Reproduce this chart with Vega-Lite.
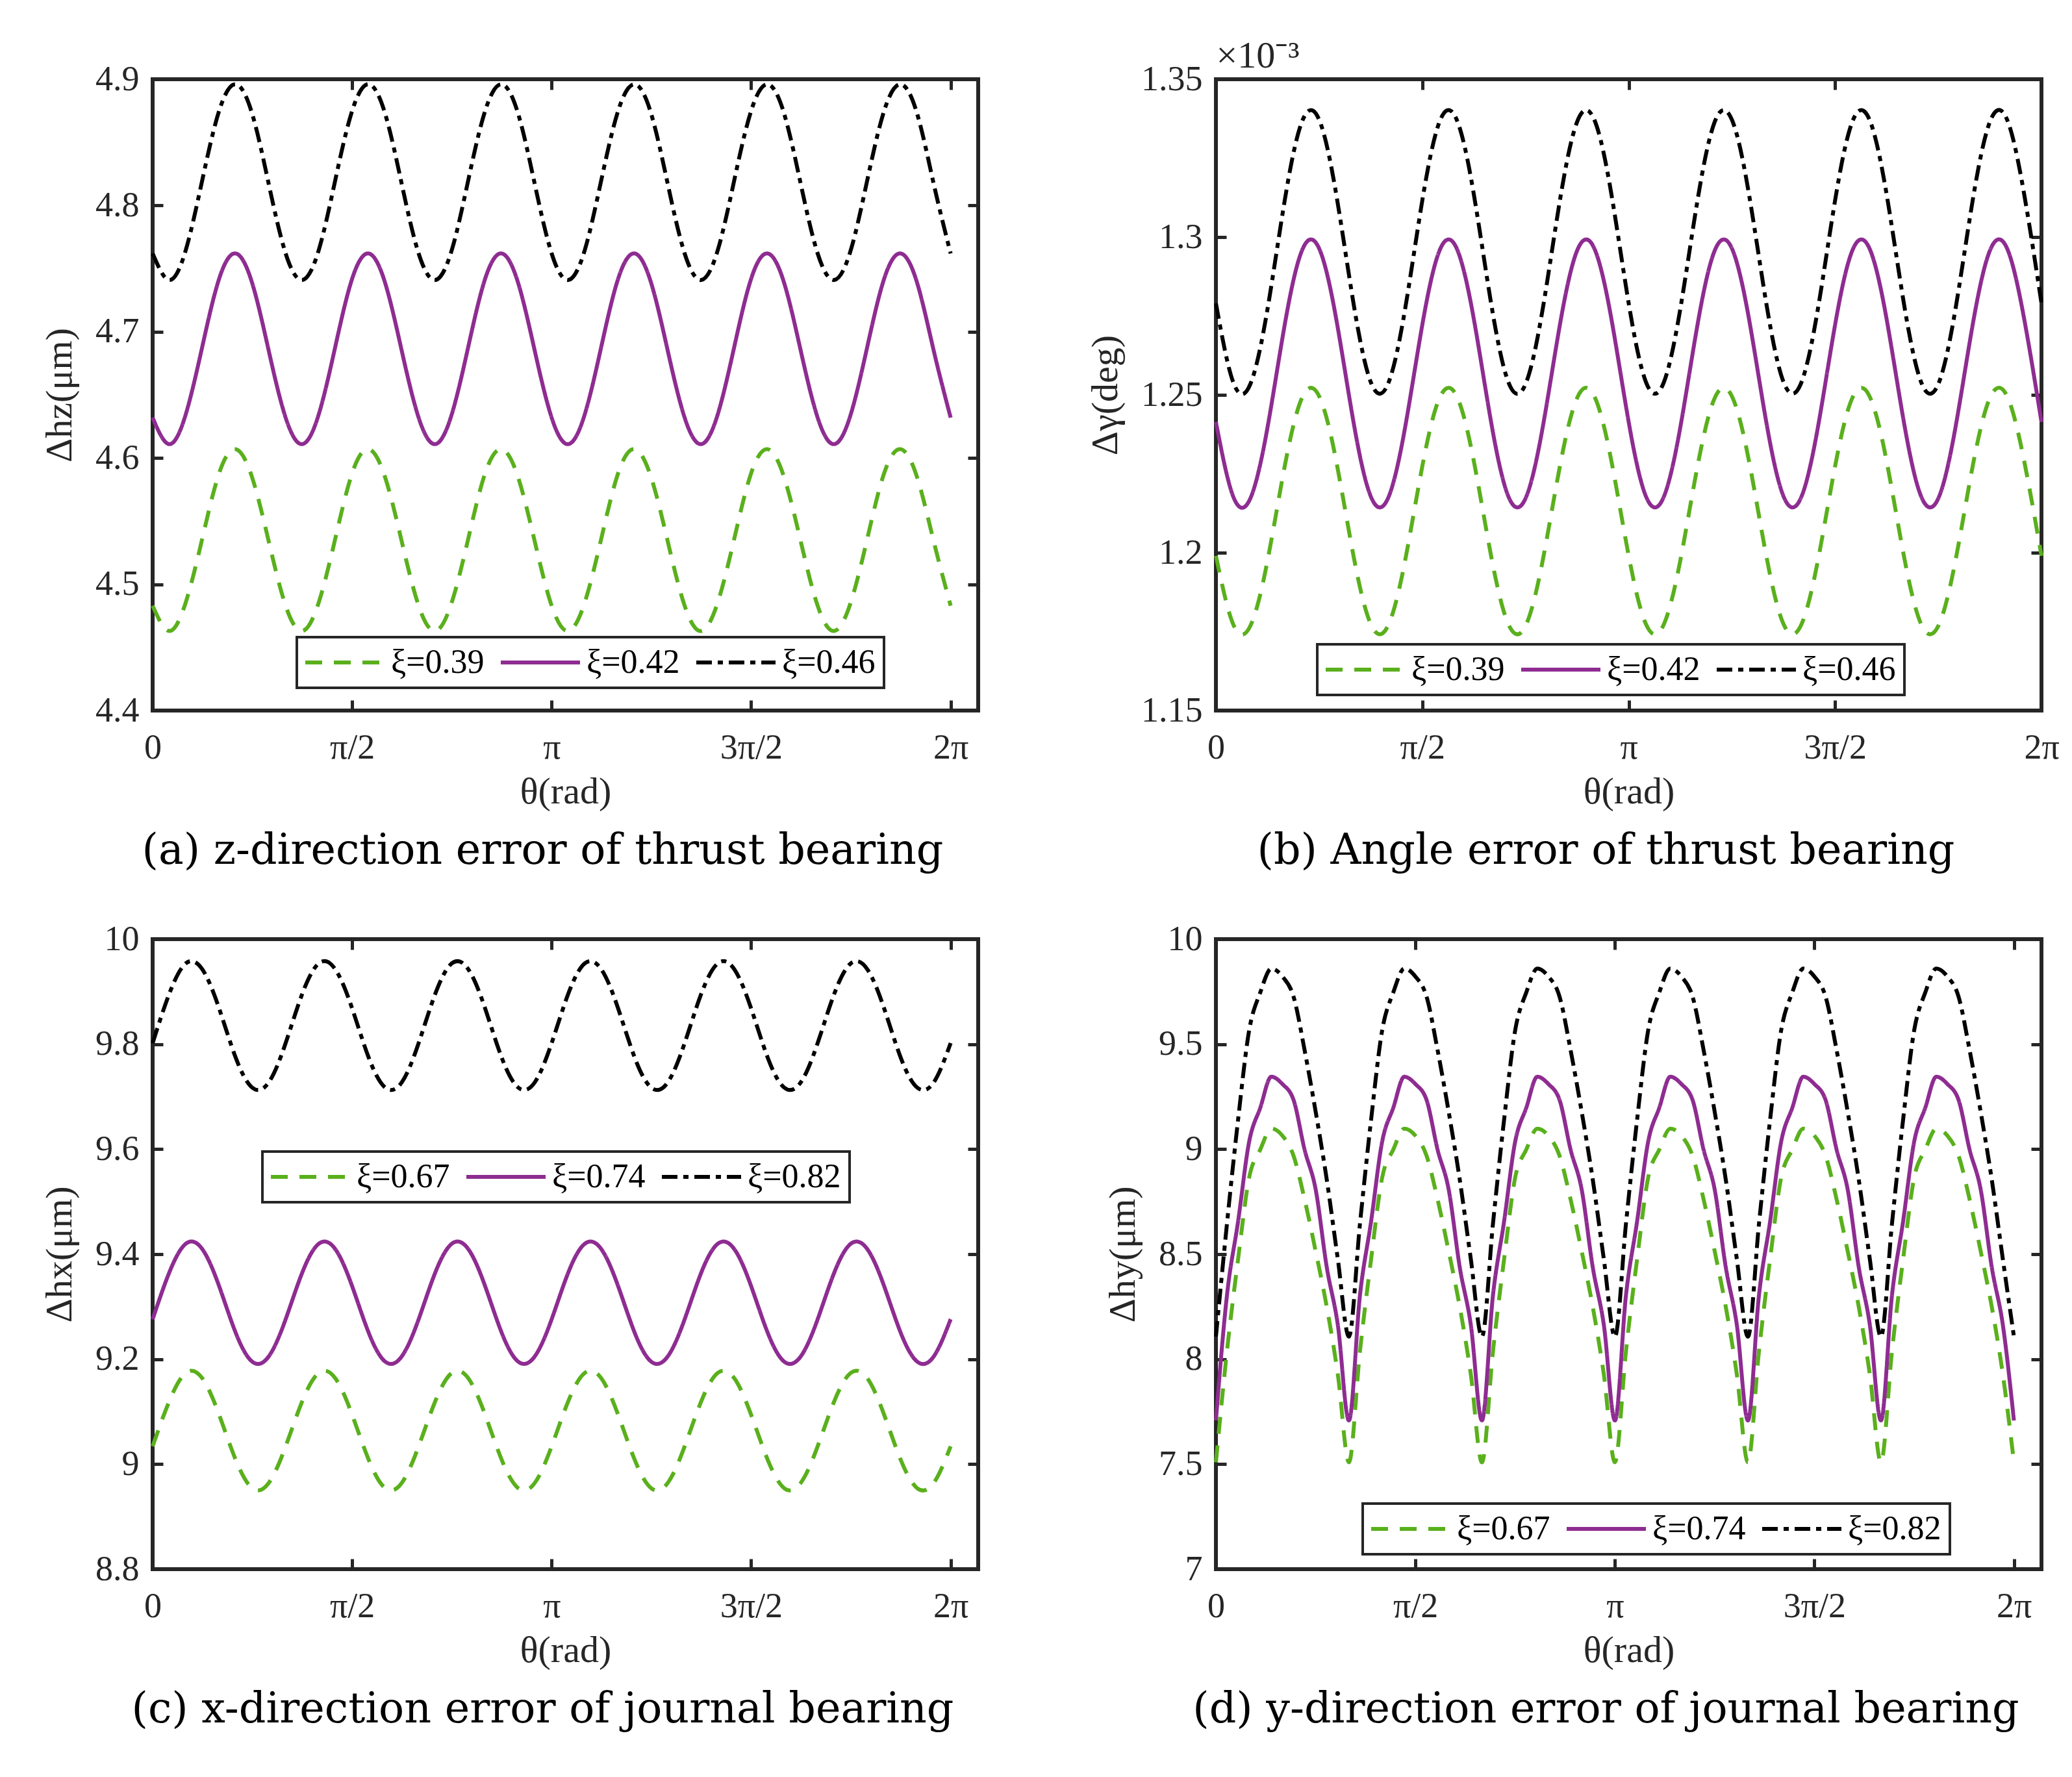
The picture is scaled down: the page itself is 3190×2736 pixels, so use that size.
{
  "$schema": "https://vega.github.io/schema/vega-lite/v6.json",
  "background": "white",
  "padding": {"left": 60, "top": 54, "right": 5, "bottom": 5},
  "columns": 2,
  "spacing": {"row": 70, "column": 158},
  "resolve": {
    "scale": {"color": "independent", "strokeDash": "independent", "x": "independent", "y": "independent"},
    "legend": {"color": "independent", "strokeDash": "independent"}
  },
  "config": {
    "view": {"stroke": "#262626", "strokeWidth": 6},
    "axis": {
      "labelFont": "Liberation Serif",
      "titleFont": "Liberation Serif",
      "labelFontSize": 54,
      "titleFontSize": 58,
      "titleFontWeight": "normal",
      "labelColor": "#262626",
      "titleColor": "#262626",
      "grid": false,
      "domain": false,
      "tickColor": "#262626",
      "tickWidth": 5,
      "tickSize": -16,
      "labelFlush": false,
      "labelOverlap": false
    },
    "axisX": {"labelPadding": 46, "titlePadding": 12},
    "axisY": {"labelPadding": 37, "titlePadding": 25},
    "legend": {
      "labelFont": "Liberation Serif",
      "labelFontSize": 52,
      "labelColor": "#000000",
      "strokeColor": "#262626",
      "strokeWidth": 4,
      "fillColor": "white",
      "padding": 13
    },
    "title": {"font": "DejaVu Serif", "fontSize": 65, "fontWeight": "normal", "color": "#000000"}
  },
  "datasets": {
    "a": [
      {"t":0,"s":"ξ=0.39","v":4.483},{"t":0.1309,"s":"ξ=0.39","v":4.463},{"t":0.2618,"s":"ξ=0.39","v":4.486},{"t":0.3927,"s":"ξ=0.39","v":4.537},{"t":0.5236,"s":"ξ=0.39","v":4.588},{"t":0.6545,"s":"ξ=0.39","v":4.607},{"t":0.7854,"s":"ξ=0.39","v":4.584},{"t":0.9163,"s":"ξ=0.39","v":4.533},
      {"t":1.0472,"s":"ξ=0.39","v":4.483},{"t":1.1781,"s":"ξ=0.39","v":4.463},{"t":1.309,"s":"ξ=0.39","v":4.486},{"t":1.4399,"s":"ξ=0.39","v":4.537},{"t":1.5708,"s":"ξ=0.39","v":4.588},{"t":1.7017,"s":"ξ=0.39","v":4.607},{"t":1.8326,"s":"ξ=0.39","v":4.584},{"t":1.9635,"s":"ξ=0.39","v":4.533},
      {"t":2.0944,"s":"ξ=0.39","v":4.483},{"t":2.2253,"s":"ξ=0.39","v":4.463},{"t":2.3562,"s":"ξ=0.39","v":4.486},{"t":2.4871,"s":"ξ=0.39","v":4.537},{"t":2.618,"s":"ξ=0.39","v":4.588},{"t":2.7489,"s":"ξ=0.39","v":4.607},{"t":2.8798,"s":"ξ=0.39","v":4.584},{"t":3.0107,"s":"ξ=0.39","v":4.533},
      {"t":3.1416,"s":"ξ=0.39","v":4.483},{"t":3.2725,"s":"ξ=0.39","v":4.463},{"t":3.4034,"s":"ξ=0.39","v":4.486},{"t":3.5343,"s":"ξ=0.39","v":4.537},{"t":3.6652,"s":"ξ=0.39","v":4.588},{"t":3.7961,"s":"ξ=0.39","v":4.607},{"t":3.927,"s":"ξ=0.39","v":4.584},{"t":4.0579,"s":"ξ=0.39","v":4.533},
      {"t":4.1888,"s":"ξ=0.39","v":4.483},{"t":4.3197,"s":"ξ=0.39","v":4.463},{"t":4.4506,"s":"ξ=0.39","v":4.486},{"t":4.5815,"s":"ξ=0.39","v":4.537},{"t":4.7124,"s":"ξ=0.39","v":4.588},{"t":4.8433,"s":"ξ=0.39","v":4.607},{"t":4.9742,"s":"ξ=0.39","v":4.584},{"t":5.1051,"s":"ξ=0.39","v":4.533},
      {"t":5.236,"s":"ξ=0.39","v":4.483},{"t":5.3669,"s":"ξ=0.39","v":4.463},{"t":5.4978,"s":"ξ=0.39","v":4.486},{"t":5.6287,"s":"ξ=0.39","v":4.537},{"t":5.7596,"s":"ξ=0.39","v":4.588},{"t":5.8905,"s":"ξ=0.39","v":4.607},{"t":6.0214,"s":"ξ=0.39","v":4.584},{"t":6.1523,"s":"ξ=0.39","v":4.533},
      {"t":6.2832,"s":"ξ=0.39","v":4.483},
      {"t":0,"s":"ξ=0.42","v":4.632},{"t":0.1309,"s":"ξ=0.42","v":4.611},{"t":0.2618,"s":"ξ=0.42","v":4.635},{"t":0.3927,"s":"ξ=0.42","v":4.689},{"t":0.5236,"s":"ξ=0.42","v":4.742},{"t":0.6545,"s":"ξ=0.42","v":4.762},{"t":0.7854,"s":"ξ=0.42","v":4.738},{"t":0.9163,"s":"ξ=0.42","v":4.684},
      {"t":1.0472,"s":"ξ=0.42","v":4.632},{"t":1.1781,"s":"ξ=0.42","v":4.611},{"t":1.309,"s":"ξ=0.42","v":4.635},{"t":1.4399,"s":"ξ=0.42","v":4.689},{"t":1.5708,"s":"ξ=0.42","v":4.742},{"t":1.7017,"s":"ξ=0.42","v":4.762},{"t":1.8326,"s":"ξ=0.42","v":4.738},{"t":1.9635,"s":"ξ=0.42","v":4.684},
      {"t":2.0944,"s":"ξ=0.42","v":4.632},{"t":2.2253,"s":"ξ=0.42","v":4.611},{"t":2.3562,"s":"ξ=0.42","v":4.635},{"t":2.4871,"s":"ξ=0.42","v":4.689},{"t":2.618,"s":"ξ=0.42","v":4.742},{"t":2.7489,"s":"ξ=0.42","v":4.762},{"t":2.8798,"s":"ξ=0.42","v":4.738},{"t":3.0107,"s":"ξ=0.42","v":4.684},
      {"t":3.1416,"s":"ξ=0.42","v":4.632},{"t":3.2725,"s":"ξ=0.42","v":4.611},{"t":3.4034,"s":"ξ=0.42","v":4.635},{"t":3.5343,"s":"ξ=0.42","v":4.689},{"t":3.6652,"s":"ξ=0.42","v":4.742},{"t":3.7961,"s":"ξ=0.42","v":4.762},{"t":3.927,"s":"ξ=0.42","v":4.738},{"t":4.0579,"s":"ξ=0.42","v":4.684},
      {"t":4.1888,"s":"ξ=0.42","v":4.632},{"t":4.3197,"s":"ξ=0.42","v":4.611},{"t":4.4506,"s":"ξ=0.42","v":4.635},{"t":4.5815,"s":"ξ=0.42","v":4.689},{"t":4.7124,"s":"ξ=0.42","v":4.742},{"t":4.8433,"s":"ξ=0.42","v":4.762},{"t":4.9742,"s":"ξ=0.42","v":4.738},{"t":5.1051,"s":"ξ=0.42","v":4.684},
      {"t":5.236,"s":"ξ=0.42","v":4.632},{"t":5.3669,"s":"ξ=0.42","v":4.611},{"t":5.4978,"s":"ξ=0.42","v":4.635},{"t":5.6287,"s":"ξ=0.42","v":4.689},{"t":5.7596,"s":"ξ=0.42","v":4.742},{"t":5.8905,"s":"ξ=0.42","v":4.762},{"t":6.0214,"s":"ξ=0.42","v":4.738},{"t":6.1523,"s":"ξ=0.42","v":4.684},
      {"t":6.2832,"s":"ξ=0.42","v":4.632},
      {"t":0,"s":"ξ=0.46","v":4.762},{"t":0.1309,"s":"ξ=0.46","v":4.741},{"t":0.2618,"s":"ξ=0.46","v":4.765},{"t":0.3927,"s":"ξ=0.46","v":4.821},{"t":0.5236,"s":"ξ=0.46","v":4.875},{"t":0.6545,"s":"ξ=0.46","v":4.896},{"t":0.7854,"s":"ξ=0.46","v":4.872},{"t":0.9163,"s":"ξ=0.46","v":4.816},
      {"t":1.0472,"s":"ξ=0.46","v":4.762},{"t":1.1781,"s":"ξ=0.46","v":4.741},{"t":1.309,"s":"ξ=0.46","v":4.765},{"t":1.4399,"s":"ξ=0.46","v":4.821},{"t":1.5708,"s":"ξ=0.46","v":4.875},{"t":1.7017,"s":"ξ=0.46","v":4.896},{"t":1.8326,"s":"ξ=0.46","v":4.872},{"t":1.9635,"s":"ξ=0.46","v":4.816},
      {"t":2.0944,"s":"ξ=0.46","v":4.762},{"t":2.2253,"s":"ξ=0.46","v":4.741},{"t":2.3562,"s":"ξ=0.46","v":4.765},{"t":2.4871,"s":"ξ=0.46","v":4.821},{"t":2.618,"s":"ξ=0.46","v":4.875},{"t":2.7489,"s":"ξ=0.46","v":4.896},{"t":2.8798,"s":"ξ=0.46","v":4.872},{"t":3.0107,"s":"ξ=0.46","v":4.816},
      {"t":3.1416,"s":"ξ=0.46","v":4.762},{"t":3.2725,"s":"ξ=0.46","v":4.741},{"t":3.4034,"s":"ξ=0.46","v":4.765},{"t":3.5343,"s":"ξ=0.46","v":4.821},{"t":3.6652,"s":"ξ=0.46","v":4.875},{"t":3.7961,"s":"ξ=0.46","v":4.896},{"t":3.927,"s":"ξ=0.46","v":4.872},{"t":4.0579,"s":"ξ=0.46","v":4.816},
      {"t":4.1888,"s":"ξ=0.46","v":4.762},{"t":4.3197,"s":"ξ=0.46","v":4.741},{"t":4.4506,"s":"ξ=0.46","v":4.765},{"t":4.5815,"s":"ξ=0.46","v":4.821},{"t":4.7124,"s":"ξ=0.46","v":4.875},{"t":4.8433,"s":"ξ=0.46","v":4.896},{"t":4.9742,"s":"ξ=0.46","v":4.872},{"t":5.1051,"s":"ξ=0.46","v":4.816},
      {"t":5.236,"s":"ξ=0.46","v":4.762},{"t":5.3669,"s":"ξ=0.46","v":4.741},{"t":5.4978,"s":"ξ=0.46","v":4.765},{"t":5.6287,"s":"ξ=0.46","v":4.821},{"t":5.7596,"s":"ξ=0.46","v":4.875},{"t":5.8905,"s":"ξ=0.46","v":4.896},{"t":6.0214,"s":"ξ=0.46","v":4.872},{"t":6.1523,"s":"ξ=0.46","v":4.816},
      {"t":6.2832,"s":"ξ=0.46","v":4.762}
    ],
    "b": [
      {"t":0,"s":"ξ=0.39","v":1.199},{"t":0.1309,"s":"ξ=0.39","v":1.1774},{"t":0.2618,"s":"ξ=0.39","v":1.1768},{"t":0.3927,"s":"ξ=0.39","v":1.1975},{"t":0.5236,"s":"ξ=0.39","v":1.2274},{"t":0.6545,"s":"ξ=0.39","v":1.249},{"t":0.7854,"s":"ξ=0.39","v":1.2496},{"t":0.9163,"s":"ξ=0.39","v":1.2289},
      {"t":1.0472,"s":"ξ=0.39","v":1.199},{"t":1.1781,"s":"ξ=0.39","v":1.1774},{"t":1.309,"s":"ξ=0.39","v":1.1768},{"t":1.4399,"s":"ξ=0.39","v":1.1975},{"t":1.5708,"s":"ξ=0.39","v":1.2274},{"t":1.7017,"s":"ξ=0.39","v":1.249},{"t":1.8326,"s":"ξ=0.39","v":1.2496},{"t":1.9635,"s":"ξ=0.39","v":1.2289},
      {"t":2.0944,"s":"ξ=0.39","v":1.199},{"t":2.2253,"s":"ξ=0.39","v":1.1774},{"t":2.3562,"s":"ξ=0.39","v":1.1768},{"t":2.4871,"s":"ξ=0.39","v":1.1975},{"t":2.618,"s":"ξ=0.39","v":1.2274},{"t":2.7489,"s":"ξ=0.39","v":1.249},{"t":2.8798,"s":"ξ=0.39","v":1.2496},{"t":3.0107,"s":"ξ=0.39","v":1.2289},
      {"t":3.1416,"s":"ξ=0.39","v":1.199},{"t":3.2725,"s":"ξ=0.39","v":1.1774},{"t":3.4034,"s":"ξ=0.39","v":1.1768},{"t":3.5343,"s":"ξ=0.39","v":1.1975},{"t":3.6652,"s":"ξ=0.39","v":1.2274},{"t":3.7961,"s":"ξ=0.39","v":1.249},{"t":3.927,"s":"ξ=0.39","v":1.2496},{"t":4.0579,"s":"ξ=0.39","v":1.2289},
      {"t":4.1888,"s":"ξ=0.39","v":1.199},{"t":4.3197,"s":"ξ=0.39","v":1.1774},{"t":4.4506,"s":"ξ=0.39","v":1.1768},{"t":4.5815,"s":"ξ=0.39","v":1.1975},{"t":4.7124,"s":"ξ=0.39","v":1.2274},{"t":4.8433,"s":"ξ=0.39","v":1.249},{"t":4.9742,"s":"ξ=0.39","v":1.2496},{"t":5.1051,"s":"ξ=0.39","v":1.2289},
      {"t":5.236,"s":"ξ=0.39","v":1.199},{"t":5.3669,"s":"ξ=0.39","v":1.1774},{"t":5.4978,"s":"ξ=0.39","v":1.1768},{"t":5.6287,"s":"ξ=0.39","v":1.1975},{"t":5.7596,"s":"ξ=0.39","v":1.2274},{"t":5.8905,"s":"ξ=0.39","v":1.249},{"t":6.0214,"s":"ξ=0.39","v":1.2496},{"t":6.1523,"s":"ξ=0.39","v":1.2289},
      {"t":6.2832,"s":"ξ=0.39","v":1.199},
      {"t":0,"s":"ξ=0.42","v":1.2414},{"t":0.1309,"s":"ξ=0.42","v":1.2179},{"t":0.2618,"s":"ξ=0.42","v":1.2172},{"t":0.3927,"s":"ξ=0.42","v":1.2397},{"t":0.5236,"s":"ξ=0.42","v":1.2722},{"t":0.6545,"s":"ξ=0.42","v":1.2957},{"t":0.7854,"s":"ξ=0.42","v":1.2964},{"t":0.9163,"s":"ξ=0.42","v":1.2739},
      {"t":1.0472,"s":"ξ=0.42","v":1.2414},{"t":1.1781,"s":"ξ=0.42","v":1.2179},{"t":1.309,"s":"ξ=0.42","v":1.2172},{"t":1.4399,"s":"ξ=0.42","v":1.2397},{"t":1.5708,"s":"ξ=0.42","v":1.2722},{"t":1.7017,"s":"ξ=0.42","v":1.2957},{"t":1.8326,"s":"ξ=0.42","v":1.2964},{"t":1.9635,"s":"ξ=0.42","v":1.2739},
      {"t":2.0944,"s":"ξ=0.42","v":1.2414},{"t":2.2253,"s":"ξ=0.42","v":1.2179},{"t":2.3562,"s":"ξ=0.42","v":1.2172},{"t":2.4871,"s":"ξ=0.42","v":1.2397},{"t":2.618,"s":"ξ=0.42","v":1.2722},{"t":2.7489,"s":"ξ=0.42","v":1.2957},{"t":2.8798,"s":"ξ=0.42","v":1.2964},{"t":3.0107,"s":"ξ=0.42","v":1.2739},
      {"t":3.1416,"s":"ξ=0.42","v":1.2414},{"t":3.2725,"s":"ξ=0.42","v":1.2179},{"t":3.4034,"s":"ξ=0.42","v":1.2172},{"t":3.5343,"s":"ξ=0.42","v":1.2397},{"t":3.6652,"s":"ξ=0.42","v":1.2722},{"t":3.7961,"s":"ξ=0.42","v":1.2957},{"t":3.927,"s":"ξ=0.42","v":1.2964},{"t":4.0579,"s":"ξ=0.42","v":1.2739},
      {"t":4.1888,"s":"ξ=0.42","v":1.2414},{"t":4.3197,"s":"ξ=0.42","v":1.2179},{"t":4.4506,"s":"ξ=0.42","v":1.2172},{"t":4.5815,"s":"ξ=0.42","v":1.2397},{"t":4.7124,"s":"ξ=0.42","v":1.2722},{"t":4.8433,"s":"ξ=0.42","v":1.2957},{"t":4.9742,"s":"ξ=0.42","v":1.2964},{"t":5.1051,"s":"ξ=0.42","v":1.2739},
      {"t":5.236,"s":"ξ=0.42","v":1.2414},{"t":5.3669,"s":"ξ=0.42","v":1.2179},{"t":5.4978,"s":"ξ=0.42","v":1.2172},{"t":5.6287,"s":"ξ=0.42","v":1.2397},{"t":5.7596,"s":"ξ=0.42","v":1.2722},{"t":5.8905,"s":"ξ=0.42","v":1.2957},{"t":6.0214,"s":"ξ=0.42","v":1.2964},{"t":6.1523,"s":"ξ=0.42","v":1.2739},
      {"t":6.2832,"s":"ξ=0.42","v":1.2414},
      {"t":0,"s":"ξ=0.46","v":1.279},{"t":0.1309,"s":"ξ=0.46","v":1.2541},{"t":0.2618,"s":"ξ=0.46","v":1.2534},{"t":0.3927,"s":"ξ=0.46","v":1.2772},{"t":0.5236,"s":"ξ=0.46","v":1.3116},{"t":0.6545,"s":"ξ=0.46","v":1.3365},{"t":0.7854,"s":"ξ=0.46","v":1.3372},{"t":0.9163,"s":"ξ=0.46","v":1.3134},
      {"t":1.0472,"s":"ξ=0.46","v":1.279},{"t":1.1781,"s":"ξ=0.46","v":1.2541},{"t":1.309,"s":"ξ=0.46","v":1.2534},{"t":1.4399,"s":"ξ=0.46","v":1.2772},{"t":1.5708,"s":"ξ=0.46","v":1.3116},{"t":1.7017,"s":"ξ=0.46","v":1.3365},{"t":1.8326,"s":"ξ=0.46","v":1.3372},{"t":1.9635,"s":"ξ=0.46","v":1.3134},
      {"t":2.0944,"s":"ξ=0.46","v":1.279},{"t":2.2253,"s":"ξ=0.46","v":1.2541},{"t":2.3562,"s":"ξ=0.46","v":1.2534},{"t":2.4871,"s":"ξ=0.46","v":1.2772},{"t":2.618,"s":"ξ=0.46","v":1.3116},{"t":2.7489,"s":"ξ=0.46","v":1.3365},{"t":2.8798,"s":"ξ=0.46","v":1.3372},{"t":3.0107,"s":"ξ=0.46","v":1.3134},
      {"t":3.1416,"s":"ξ=0.46","v":1.279},{"t":3.2725,"s":"ξ=0.46","v":1.2541},{"t":3.4034,"s":"ξ=0.46","v":1.2534},{"t":3.5343,"s":"ξ=0.46","v":1.2772},{"t":3.6652,"s":"ξ=0.46","v":1.3116},{"t":3.7961,"s":"ξ=0.46","v":1.3365},{"t":3.927,"s":"ξ=0.46","v":1.3372},{"t":4.0579,"s":"ξ=0.46","v":1.3134},
      {"t":4.1888,"s":"ξ=0.46","v":1.279},{"t":4.3197,"s":"ξ=0.46","v":1.2541},{"t":4.4506,"s":"ξ=0.46","v":1.2534},{"t":4.5815,"s":"ξ=0.46","v":1.2772},{"t":4.7124,"s":"ξ=0.46","v":1.3116},{"t":4.8433,"s":"ξ=0.46","v":1.3365},{"t":4.9742,"s":"ξ=0.46","v":1.3372},{"t":5.1051,"s":"ξ=0.46","v":1.3134},
      {"t":5.236,"s":"ξ=0.46","v":1.279},{"t":5.3669,"s":"ξ=0.46","v":1.2541},{"t":5.4978,"s":"ξ=0.46","v":1.2534},{"t":5.6287,"s":"ξ=0.46","v":1.2772},{"t":5.7596,"s":"ξ=0.46","v":1.3116},{"t":5.8905,"s":"ξ=0.46","v":1.3365},{"t":6.0214,"s":"ξ=0.46","v":1.3372},{"t":6.1523,"s":"ξ=0.46","v":1.3134},
      {"t":6.2832,"s":"ξ=0.46","v":1.279}
    ],
    "c": [
      {"t":0,"s":"ξ=0.67","v":9.034},{"t":0.1309,"s":"ξ=0.67","v":9.12},{"t":0.2618,"s":"ξ=0.67","v":9.174},{"t":0.3927,"s":"ξ=0.67","v":9.163},{"t":0.5236,"s":"ξ=0.67","v":9.094},{"t":0.6545,"s":"ξ=0.67","v":9.008},{"t":0.7854,"s":"ξ=0.67","v":8.954},{"t":0.9163,"s":"ξ=0.67","v":8.965},
      {"t":1.0472,"s":"ξ=0.67","v":9.034},{"t":1.1781,"s":"ξ=0.67","v":9.12},{"t":1.309,"s":"ξ=0.67","v":9.174},{"t":1.4399,"s":"ξ=0.67","v":9.163},{"t":1.5708,"s":"ξ=0.67","v":9.094},{"t":1.7017,"s":"ξ=0.67","v":9.008},{"t":1.8326,"s":"ξ=0.67","v":8.954},{"t":1.9635,"s":"ξ=0.67","v":8.965},
      {"t":2.0944,"s":"ξ=0.67","v":9.034},{"t":2.2253,"s":"ξ=0.67","v":9.12},{"t":2.3562,"s":"ξ=0.67","v":9.174},{"t":2.4871,"s":"ξ=0.67","v":9.163},{"t":2.618,"s":"ξ=0.67","v":9.094},{"t":2.7489,"s":"ξ=0.67","v":9.008},{"t":2.8798,"s":"ξ=0.67","v":8.954},{"t":3.0107,"s":"ξ=0.67","v":8.965},
      {"t":3.1416,"s":"ξ=0.67","v":9.034},{"t":3.2725,"s":"ξ=0.67","v":9.12},{"t":3.4034,"s":"ξ=0.67","v":9.174},{"t":3.5343,"s":"ξ=0.67","v":9.163},{"t":3.6652,"s":"ξ=0.67","v":9.094},{"t":3.7961,"s":"ξ=0.67","v":9.008},{"t":3.927,"s":"ξ=0.67","v":8.954},{"t":4.0579,"s":"ξ=0.67","v":8.965},
      {"t":4.1888,"s":"ξ=0.67","v":9.034},{"t":4.3197,"s":"ξ=0.67","v":9.12},{"t":4.4506,"s":"ξ=0.67","v":9.174},{"t":4.5815,"s":"ξ=0.67","v":9.163},{"t":4.7124,"s":"ξ=0.67","v":9.094},{"t":4.8433,"s":"ξ=0.67","v":9.008},{"t":4.9742,"s":"ξ=0.67","v":8.954},{"t":5.1051,"s":"ξ=0.67","v":8.965},
      {"t":5.236,"s":"ξ=0.67","v":9.034},{"t":5.3669,"s":"ξ=0.67","v":9.12},{"t":5.4978,"s":"ξ=0.67","v":9.174},{"t":5.6287,"s":"ξ=0.67","v":9.163},{"t":5.7596,"s":"ξ=0.67","v":9.094},{"t":5.8905,"s":"ξ=0.67","v":9.008},{"t":6.0214,"s":"ξ=0.67","v":8.954},{"t":6.1523,"s":"ξ=0.67","v":8.965},
      {"t":6.2832,"s":"ξ=0.67","v":9.034},
      {"t":0,"s":"ξ=0.74","v":9.276},{"t":0.1309,"s":"ξ=0.74","v":9.365},{"t":0.2618,"s":"ξ=0.74","v":9.42},{"t":0.3927,"s":"ξ=0.74","v":9.409},{"t":0.5236,"s":"ξ=0.74","v":9.339},{"t":0.6545,"s":"ξ=0.74","v":9.25},{"t":0.7854,"s":"ξ=0.74","v":9.195},{"t":0.9163,"s":"ξ=0.74","v":9.206},
      {"t":1.0472,"s":"ξ=0.74","v":9.276},{"t":1.1781,"s":"ξ=0.74","v":9.365},{"t":1.309,"s":"ξ=0.74","v":9.42},{"t":1.4399,"s":"ξ=0.74","v":9.409},{"t":1.5708,"s":"ξ=0.74","v":9.339},{"t":1.7017,"s":"ξ=0.74","v":9.25},{"t":1.8326,"s":"ξ=0.74","v":9.195},{"t":1.9635,"s":"ξ=0.74","v":9.206},
      {"t":2.0944,"s":"ξ=0.74","v":9.276},{"t":2.2253,"s":"ξ=0.74","v":9.365},{"t":2.3562,"s":"ξ=0.74","v":9.42},{"t":2.4871,"s":"ξ=0.74","v":9.409},{"t":2.618,"s":"ξ=0.74","v":9.339},{"t":2.7489,"s":"ξ=0.74","v":9.25},{"t":2.8798,"s":"ξ=0.74","v":9.195},{"t":3.0107,"s":"ξ=0.74","v":9.206},
      {"t":3.1416,"s":"ξ=0.74","v":9.276},{"t":3.2725,"s":"ξ=0.74","v":9.365},{"t":3.4034,"s":"ξ=0.74","v":9.42},{"t":3.5343,"s":"ξ=0.74","v":9.409},{"t":3.6652,"s":"ξ=0.74","v":9.339},{"t":3.7961,"s":"ξ=0.74","v":9.25},{"t":3.927,"s":"ξ=0.74","v":9.195},{"t":4.0579,"s":"ξ=0.74","v":9.206},
      {"t":4.1888,"s":"ξ=0.74","v":9.276},{"t":4.3197,"s":"ξ=0.74","v":9.365},{"t":4.4506,"s":"ξ=0.74","v":9.42},{"t":4.5815,"s":"ξ=0.74","v":9.409},{"t":4.7124,"s":"ξ=0.74","v":9.339},{"t":4.8433,"s":"ξ=0.74","v":9.25},{"t":4.9742,"s":"ξ=0.74","v":9.195},{"t":5.1051,"s":"ξ=0.74","v":9.206},
      {"t":5.236,"s":"ξ=0.74","v":9.276},{"t":5.3669,"s":"ξ=0.74","v":9.365},{"t":5.4978,"s":"ξ=0.74","v":9.42},{"t":5.6287,"s":"ξ=0.74","v":9.409},{"t":5.7596,"s":"ξ=0.74","v":9.339},{"t":5.8905,"s":"ξ=0.74","v":9.25},{"t":6.0214,"s":"ξ=0.74","v":9.195},{"t":6.1523,"s":"ξ=0.74","v":9.206},
      {"t":6.2832,"s":"ξ=0.74","v":9.276},
      {"t":0,"s":"ξ=0.82","v":9.802},{"t":0.1309,"s":"ξ=0.82","v":9.896},{"t":0.2618,"s":"ξ=0.82","v":9.954},{"t":0.3927,"s":"ξ=0.82","v":9.942},{"t":0.5236,"s":"ξ=0.82","v":9.868},{"t":0.6545,"s":"ξ=0.82","v":9.774},{"t":0.7854,"s":"ξ=0.82","v":9.717},{"t":0.9163,"s":"ξ=0.82","v":9.728},
      {"t":1.0472,"s":"ξ=0.82","v":9.802},{"t":1.1781,"s":"ξ=0.82","v":9.896},{"t":1.309,"s":"ξ=0.82","v":9.954},{"t":1.4399,"s":"ξ=0.82","v":9.942},{"t":1.5708,"s":"ξ=0.82","v":9.868},{"t":1.7017,"s":"ξ=0.82","v":9.774},{"t":1.8326,"s":"ξ=0.82","v":9.717},{"t":1.9635,"s":"ξ=0.82","v":9.728},
      {"t":2.0944,"s":"ξ=0.82","v":9.802},{"t":2.2253,"s":"ξ=0.82","v":9.896},{"t":2.3562,"s":"ξ=0.82","v":9.954},{"t":2.4871,"s":"ξ=0.82","v":9.942},{"t":2.618,"s":"ξ=0.82","v":9.868},{"t":2.7489,"s":"ξ=0.82","v":9.774},{"t":2.8798,"s":"ξ=0.82","v":9.717},{"t":3.0107,"s":"ξ=0.82","v":9.728},
      {"t":3.1416,"s":"ξ=0.82","v":9.802},{"t":3.2725,"s":"ξ=0.82","v":9.896},{"t":3.4034,"s":"ξ=0.82","v":9.954},{"t":3.5343,"s":"ξ=0.82","v":9.942},{"t":3.6652,"s":"ξ=0.82","v":9.868},{"t":3.7961,"s":"ξ=0.82","v":9.774},{"t":3.927,"s":"ξ=0.82","v":9.717},{"t":4.0579,"s":"ξ=0.82","v":9.728},
      {"t":4.1888,"s":"ξ=0.82","v":9.802},{"t":4.3197,"s":"ξ=0.82","v":9.896},{"t":4.4506,"s":"ξ=0.82","v":9.954},{"t":4.5815,"s":"ξ=0.82","v":9.942},{"t":4.7124,"s":"ξ=0.82","v":9.868},{"t":4.8433,"s":"ξ=0.82","v":9.774},{"t":4.9742,"s":"ξ=0.82","v":9.717},{"t":5.1051,"s":"ξ=0.82","v":9.728},
      {"t":5.236,"s":"ξ=0.82","v":9.802},{"t":5.3669,"s":"ξ=0.82","v":9.896},{"t":5.4978,"s":"ξ=0.82","v":9.954},{"t":5.6287,"s":"ξ=0.82","v":9.942},{"t":5.7596,"s":"ξ=0.82","v":9.868},{"t":5.8905,"s":"ξ=0.82","v":9.774},{"t":6.0214,"s":"ξ=0.82","v":9.717},{"t":6.1523,"s":"ξ=0.82","v":9.728},
      {"t":6.2832,"s":"ξ=0.82","v":9.802}
    ],
    "d": [
      {"t":0,"s":"ξ=0.67","v":7.509},{"t":0.0873,"s":"ξ=0.67","v":8.04},{"t":0.1745,"s":"ξ=0.67","v":8.476},{"t":0.2618,"s":"ξ=0.67","v":8.865},{"t":0.3491,"s":"ξ=0.67","v":8.998},{"t":0.4363,"s":"ξ=0.67","v":9.098},{"t":0.5236,"s":"ξ=0.67","v":9.064},{"t":0.6109,"s":"ξ=0.67","v":8.969},{"t":0.6981,"s":"ξ=0.67","v":8.761},{"t":0.7854,"s":"ξ=0.67","v":8.514},{"t":0.8727,"s":"ξ=0.67","v":8.249},{"t":0.9599,"s":"ξ=0.67","v":7.927},
      {"t":1.0472,"s":"ξ=0.67","v":7.509},{"t":1.1345,"s":"ξ=0.67","v":8.04},{"t":1.2217,"s":"ξ=0.67","v":8.476},{"t":1.309,"s":"ξ=0.67","v":8.865},{"t":1.3963,"s":"ξ=0.67","v":8.998},{"t":1.4835,"s":"ξ=0.67","v":9.098},{"t":1.5708,"s":"ξ=0.67","v":9.064},{"t":1.6581,"s":"ξ=0.67","v":8.969},{"t":1.7453,"s":"ξ=0.67","v":8.761},{"t":1.8326,"s":"ξ=0.67","v":8.514},{"t":1.9199,"s":"ξ=0.67","v":8.249},{"t":2.0071,"s":"ξ=0.67","v":7.927},
      {"t":2.0944,"s":"ξ=0.67","v":7.509},{"t":2.1817,"s":"ξ=0.67","v":8.04},{"t":2.2689,"s":"ξ=0.67","v":8.476},{"t":2.3562,"s":"ξ=0.67","v":8.865},{"t":2.4435,"s":"ξ=0.67","v":8.998},{"t":2.5307,"s":"ξ=0.67","v":9.098},{"t":2.618,"s":"ξ=0.67","v":9.064},{"t":2.7053,"s":"ξ=0.67","v":8.969},{"t":2.7925,"s":"ξ=0.67","v":8.761},{"t":2.8798,"s":"ξ=0.67","v":8.514},{"t":2.9671,"s":"ξ=0.67","v":8.249},{"t":3.0543,"s":"ξ=0.67","v":7.927},
      {"t":3.1416,"s":"ξ=0.67","v":7.509},{"t":3.2289,"s":"ξ=0.67","v":8.04},{"t":3.3161,"s":"ξ=0.67","v":8.476},{"t":3.4034,"s":"ξ=0.67","v":8.865},{"t":3.4907,"s":"ξ=0.67","v":8.998},{"t":3.5779,"s":"ξ=0.67","v":9.098},{"t":3.6652,"s":"ξ=0.67","v":9.064},{"t":3.7525,"s":"ξ=0.67","v":8.969},{"t":3.8397,"s":"ξ=0.67","v":8.761},{"t":3.927,"s":"ξ=0.67","v":8.514},{"t":4.0143,"s":"ξ=0.67","v":8.249},{"t":4.1015,"s":"ξ=0.67","v":7.927},
      {"t":4.1888,"s":"ξ=0.67","v":7.509},{"t":4.2761,"s":"ξ=0.67","v":8.04},{"t":4.3633,"s":"ξ=0.67","v":8.476},{"t":4.4506,"s":"ξ=0.67","v":8.865},{"t":4.5379,"s":"ξ=0.67","v":8.998},{"t":4.6251,"s":"ξ=0.67","v":9.098},{"t":4.7124,"s":"ξ=0.67","v":9.064},{"t":4.7997,"s":"ξ=0.67","v":8.969},{"t":4.8869,"s":"ξ=0.67","v":8.761},{"t":4.9742,"s":"ξ=0.67","v":8.514},{"t":5.0615,"s":"ξ=0.67","v":8.249},{"t":5.1487,"s":"ξ=0.67","v":7.927},
      {"t":5.236,"s":"ξ=0.67","v":7.509},{"t":5.3233,"s":"ξ=0.67","v":8.04},{"t":5.4105,"s":"ξ=0.67","v":8.476},{"t":5.4978,"s":"ξ=0.67","v":8.865},{"t":5.5851,"s":"ξ=0.67","v":8.998},{"t":5.6723,"s":"ξ=0.67","v":9.098},{"t":5.7596,"s":"ξ=0.67","v":9.064},{"t":5.8469,"s":"ξ=0.67","v":8.969},{"t":5.9341,"s":"ξ=0.67","v":8.761},{"t":6.0214,"s":"ξ=0.67","v":8.514},{"t":6.1087,"s":"ξ=0.67","v":8.249},{"t":6.1959,"s":"ξ=0.67","v":7.927},
      {"t":6.2832,"s":"ξ=0.67","v":7.509},
      {"t":0,"s":"ξ=0.74","v":7.708},{"t":0.0873,"s":"ξ=0.74","v":8.306},{"t":0.1745,"s":"ξ=0.74","v":8.656},{"t":0.2618,"s":"ξ=0.74","v":9.036},{"t":0.3491,"s":"ξ=0.74","v":9.197},{"t":0.4363,"s":"ξ=0.74","v":9.345},{"t":0.5236,"s":"ξ=0.74","v":9.31},{"t":0.6109,"s":"ξ=0.74","v":9.235},{"t":0.6981,"s":"ξ=0.74","v":8.998},{"t":0.7854,"s":"ξ=0.74","v":8.808},{"t":0.8727,"s":"ξ=0.74","v":8.438},{"t":0.9599,"s":"ξ=0.74","v":8.163},
      {"t":1.0472,"s":"ξ=0.74","v":7.708},{"t":1.1345,"s":"ξ=0.74","v":8.306},{"t":1.2217,"s":"ξ=0.74","v":8.656},{"t":1.309,"s":"ξ=0.74","v":9.036},{"t":1.3963,"s":"ξ=0.74","v":9.197},{"t":1.4835,"s":"ξ=0.74","v":9.345},{"t":1.5708,"s":"ξ=0.74","v":9.31},{"t":1.6581,"s":"ξ=0.74","v":9.235},{"t":1.7453,"s":"ξ=0.74","v":8.998},{"t":1.8326,"s":"ξ=0.74","v":8.808},{"t":1.9199,"s":"ξ=0.74","v":8.438},{"t":2.0071,"s":"ξ=0.74","v":8.163},
      {"t":2.0944,"s":"ξ=0.74","v":7.708},{"t":2.1817,"s":"ξ=0.74","v":8.306},{"t":2.2689,"s":"ξ=0.74","v":8.656},{"t":2.3562,"s":"ξ=0.74","v":9.036},{"t":2.4435,"s":"ξ=0.74","v":9.197},{"t":2.5307,"s":"ξ=0.74","v":9.345},{"t":2.618,"s":"ξ=0.74","v":9.31},{"t":2.7053,"s":"ξ=0.74","v":9.235},{"t":2.7925,"s":"ξ=0.74","v":8.998},{"t":2.8798,"s":"ξ=0.74","v":8.808},{"t":2.9671,"s":"ξ=0.74","v":8.438},{"t":3.0543,"s":"ξ=0.74","v":8.163},
      {"t":3.1416,"s":"ξ=0.74","v":7.708},{"t":3.2289,"s":"ξ=0.74","v":8.306},{"t":3.3161,"s":"ξ=0.74","v":8.656},{"t":3.4034,"s":"ξ=0.74","v":9.036},{"t":3.4907,"s":"ξ=0.74","v":9.197},{"t":3.5779,"s":"ξ=0.74","v":9.345},{"t":3.6652,"s":"ξ=0.74","v":9.31},{"t":3.7525,"s":"ξ=0.74","v":9.235},{"t":3.8397,"s":"ξ=0.74","v":8.998},{"t":3.927,"s":"ξ=0.74","v":8.808},{"t":4.0143,"s":"ξ=0.74","v":8.438},{"t":4.1015,"s":"ξ=0.74","v":8.163},
      {"t":4.1888,"s":"ξ=0.74","v":7.708},{"t":4.2761,"s":"ξ=0.74","v":8.306},{"t":4.3633,"s":"ξ=0.74","v":8.656},{"t":4.4506,"s":"ξ=0.74","v":9.036},{"t":4.5379,"s":"ξ=0.74","v":9.197},{"t":4.6251,"s":"ξ=0.74","v":9.345},{"t":4.7124,"s":"ξ=0.74","v":9.31},{"t":4.7997,"s":"ξ=0.74","v":9.235},{"t":4.8869,"s":"ξ=0.74","v":8.998},{"t":4.9742,"s":"ξ=0.74","v":8.808},{"t":5.0615,"s":"ξ=0.74","v":8.438},{"t":5.1487,"s":"ξ=0.74","v":8.163},
      {"t":5.236,"s":"ξ=0.74","v":7.708},{"t":5.3233,"s":"ξ=0.74","v":8.306},{"t":5.4105,"s":"ξ=0.74","v":8.656},{"t":5.4978,"s":"ξ=0.74","v":9.036},{"t":5.5851,"s":"ξ=0.74","v":9.197},{"t":5.6723,"s":"ξ=0.74","v":9.345},{"t":5.7596,"s":"ξ=0.74","v":9.31},{"t":5.8469,"s":"ξ=0.74","v":9.235},{"t":5.9341,"s":"ξ=0.74","v":8.998},{"t":6.0214,"s":"ξ=0.74","v":8.808},{"t":6.1087,"s":"ξ=0.74","v":8.438},{"t":6.1959,"s":"ξ=0.74","v":8.163},
      {"t":6.2832,"s":"ξ=0.74","v":7.708},
      {"t":0,"s":"ξ=0.82","v":8.107},{"t":0.0873,"s":"ξ=0.82","v":8.647},{"t":0.1745,"s":"ξ=0.82","v":9.14},{"t":0.2618,"s":"ξ=0.82","v":9.566},{"t":0.3491,"s":"ξ=0.82","v":9.746},{"t":0.4363,"s":"ξ=0.82","v":9.86},{"t":0.5236,"s":"ξ=0.82","v":9.822},{"t":0.6109,"s":"ξ=0.82","v":9.727},{"t":0.6981,"s":"ξ=0.82","v":9.472},{"t":0.7854,"s":"ξ=0.82","v":9.178},{"t":0.8727,"s":"ξ=0.82","v":8.855},{"t":0.9599,"s":"ξ=0.82","v":8.476},
      {"t":1.0472,"s":"ξ=0.82","v":8.107},{"t":1.1345,"s":"ξ=0.82","v":8.647},{"t":1.2217,"s":"ξ=0.82","v":9.14},{"t":1.309,"s":"ξ=0.82","v":9.566},{"t":1.3963,"s":"ξ=0.82","v":9.746},{"t":1.4835,"s":"ξ=0.82","v":9.86},{"t":1.5708,"s":"ξ=0.82","v":9.822},{"t":1.6581,"s":"ξ=0.82","v":9.727},{"t":1.7453,"s":"ξ=0.82","v":9.472},{"t":1.8326,"s":"ξ=0.82","v":9.178},{"t":1.9199,"s":"ξ=0.82","v":8.855},{"t":2.0071,"s":"ξ=0.82","v":8.476},
      {"t":2.0944,"s":"ξ=0.82","v":8.107},{"t":2.1817,"s":"ξ=0.82","v":8.647},{"t":2.2689,"s":"ξ=0.82","v":9.14},{"t":2.3562,"s":"ξ=0.82","v":9.566},{"t":2.4435,"s":"ξ=0.82","v":9.746},{"t":2.5307,"s":"ξ=0.82","v":9.86},{"t":2.618,"s":"ξ=0.82","v":9.822},{"t":2.7053,"s":"ξ=0.82","v":9.727},{"t":2.7925,"s":"ξ=0.82","v":9.472},{"t":2.8798,"s":"ξ=0.82","v":9.178},{"t":2.9671,"s":"ξ=0.82","v":8.855},{"t":3.0543,"s":"ξ=0.82","v":8.476},
      {"t":3.1416,"s":"ξ=0.82","v":8.107},{"t":3.2289,"s":"ξ=0.82","v":8.647},{"t":3.3161,"s":"ξ=0.82","v":9.14},{"t":3.4034,"s":"ξ=0.82","v":9.566},{"t":3.4907,"s":"ξ=0.82","v":9.746},{"t":3.5779,"s":"ξ=0.82","v":9.86},{"t":3.6652,"s":"ξ=0.82","v":9.822},{"t":3.7525,"s":"ξ=0.82","v":9.727},{"t":3.8397,"s":"ξ=0.82","v":9.472},{"t":3.927,"s":"ξ=0.82","v":9.178},{"t":4.0143,"s":"ξ=0.82","v":8.855},{"t":4.1015,"s":"ξ=0.82","v":8.476},
      {"t":4.1888,"s":"ξ=0.82","v":8.107},{"t":4.2761,"s":"ξ=0.82","v":8.647},{"t":4.3633,"s":"ξ=0.82","v":9.14},{"t":4.4506,"s":"ξ=0.82","v":9.566},{"t":4.5379,"s":"ξ=0.82","v":9.746},{"t":4.6251,"s":"ξ=0.82","v":9.86},{"t":4.7124,"s":"ξ=0.82","v":9.822},{"t":4.7997,"s":"ξ=0.82","v":9.727},{"t":4.8869,"s":"ξ=0.82","v":9.472},{"t":4.9742,"s":"ξ=0.82","v":9.178},{"t":5.0615,"s":"ξ=0.82","v":8.855},{"t":5.1487,"s":"ξ=0.82","v":8.476},
      {"t":5.236,"s":"ξ=0.82","v":8.107},{"t":5.3233,"s":"ξ=0.82","v":8.647},{"t":5.4105,"s":"ξ=0.82","v":9.14},{"t":5.4978,"s":"ξ=0.82","v":9.566},{"t":5.5851,"s":"ξ=0.82","v":9.746},{"t":5.6723,"s":"ξ=0.82","v":9.86},{"t":5.7596,"s":"ξ=0.82","v":9.822},{"t":5.8469,"s":"ξ=0.82","v":9.727},{"t":5.9341,"s":"ξ=0.82","v":9.472},{"t":6.0214,"s":"ξ=0.82","v":9.178},{"t":6.1087,"s":"ξ=0.82","v":8.855},{"t":6.1959,"s":"ξ=0.82","v":8.476},
      {"t":6.2832,"s":"ξ=0.82","v":8.107}
    ]
  },
  "concat": [
    {
      "width": 1271,
      "height": 972,
      "data": {"name": "a"},
      "title": {"text": "(a) z-direction error of thrust bearing", "orient": "bottom", "anchor": "middle", "offset": 31, "dx": -35},
      "layer": [
        {
          "mark": {"type": "line", "interpolate": "natural", "strokeWidth": 6},
          "encoding": {
            "x": {"field": "t", "type": "quantitative", "scale": {"domain": [0, 6.5], "nice": false, "zero": false},
                  "axis": {"values": [0, 1.5708, 3.1416, 4.7124, 6.2832], "title": "θ(rad)",
                           "labelExpr": "datum.value < 0.5 ? '0' : datum.value < 2 ? 'π/2' : datum.value < 4 ? 'π' : datum.value < 5.5 ? '3π/2' : '2π'"}},
            "y": {"field": "v", "type": "quantitative", "scale": {"domain": [4.4, 4.9], "nice": false, "zero": false},
                  "axis": {"values": [4.4, 4.5, 4.6, 4.7, 4.8, 4.9], "format": "~g", "title": "Δhz(μm)"}},
            "color": {"field": "s", "type": "nominal",
                      "scale": {"domain": ["ξ=0.39", "ξ=0.42", "ξ=0.46"], "range": ["#5ab01c", "#8e2c91", "#000000"]},
                      "legend": {"title": null, "orient": "none", "legendX": 222, "legendY": 859, "direction": "horizontal", "symbolType": "M-2.6,0H9.6", "symbolSize": 400, "symbolStrokeWidth": 6, "labelOffset": 80, "columnPadding": 13}},
            "strokeDash": {"field": "s", "type": "nominal",
                      "scale": {"domain": ["ξ=0.39", "ξ=0.42", "ξ=0.46"], "range": [[26, 18], [1, 0], [24, 9, 8, 9]]},
                      "legend": {"title": null, "orient": "none", "legendX": 222, "legendY": 859, "direction": "horizontal", "symbolType": "M-2.6,0H9.6", "symbolSize": 400, "symbolStrokeWidth": 6, "labelOffset": 80, "columnPadding": 13}}
          }
        },
        {
          "mark": {"type": "point", "opacity": 0},
          "encoding": {
            "x": {"field": "t", "type": "quantitative", "scale": {"domain": [0, 6.5], "nice": false, "zero": false},
                  "axis": {"orient": "top", "values": [0, 1.5708, 3.1416, 4.7124, 6.2832], "labels": false, "title": null}},
            "y": {"field": "v", "type": "quantitative", "scale": {"domain": [4.4, 4.9], "nice": false, "zero": false},
                  "axis": {"orient": "right", "values": [4.4, 4.5, 4.6, 4.7, 4.8, 4.9], "labels": false, "title": null}}
          }
        }
      ],
      "resolve": {"axis": {"x": "independent", "y": "independent"}}
    },
    {
      "width": 1271,
      "height": 972,
      "data": {"name": "b"},
      "title": {"text": "(b) Angle error of thrust bearing", "orient": "bottom", "anchor": "middle", "offset": 31, "dx": -35},
      "layer": [
        {
          "mark": {"type": "line", "interpolate": "natural", "strokeWidth": 6},
          "encoding": {
            "x": {"field": "t", "type": "quantitative", "scale": {"domain": [0, 6.2832], "nice": false, "zero": false},
                  "axis": {"values": [0, 1.5708, 3.1416, 4.7124, 6.2832], "title": "θ(rad)",
                           "labelExpr": "datum.value < 0.5 ? '0' : datum.value < 2 ? 'π/2' : datum.value < 4 ? 'π' : datum.value < 5.5 ? '3π/2' : '2π'"}},
            "y": {"field": "v", "type": "quantitative", "scale": {"domain": [1.15, 1.35], "nice": false, "zero": false},
                  "axis": {"values": [1.15, 1.2, 1.25, 1.3, 1.35], "format": "~g", "title": "Δγ(deg)"}},
            "color": {"field": "s", "type": "nominal",
                      "scale": {"domain": ["ξ=0.39", "ξ=0.42", "ξ=0.46"], "range": ["#5ab01c", "#8e2c91", "#000000"]},
                      "legend": {"title": null, "orient": "none", "legendX": 156, "legendY": 870, "direction": "horizontal", "symbolType": "M-2.6,0H9.6", "symbolSize": 400, "symbolStrokeWidth": 6, "labelOffset": 80, "columnPadding": 13}},
            "strokeDash": {"field": "s", "type": "nominal",
                      "scale": {"domain": ["ξ=0.39", "ξ=0.42", "ξ=0.46"], "range": [[26, 18], [1, 0], [24, 9, 8, 9]]},
                      "legend": {"title": null, "orient": "none", "legendX": 156, "legendY": 870, "direction": "horizontal", "symbolType": "M-2.6,0H9.6", "symbolSize": 400, "symbolStrokeWidth": 6, "labelOffset": 80, "columnPadding": 13}}
          }
        },
        {
          "mark": {"type": "point", "opacity": 0},
          "encoding": {
            "x": {"field": "t", "type": "quantitative", "scale": {"domain": [0, 6.2832], "nice": false, "zero": false},
                  "axis": {"orient": "top", "values": [0, 1.5708, 3.1416, 4.7124, 6.2832], "labels": false,
                           "title": "×10⁻³", "titleAnchor": "start", "titleAlign": "left", "titleFontSize": 58, "titlePadding": 4}},
            "y": {"field": "v", "type": "quantitative", "scale": {"domain": [1.15, 1.35], "nice": false, "zero": false},
                  "axis": {"orient": "right", "values": [1.15, 1.2, 1.25, 1.3, 1.35], "labels": false, "title": null}}
          }
        }
      ],
      "resolve": {"axis": {"x": "independent", "y": "independent"}}
    },
    {
      "width": 1271,
      "height": 970,
      "data": {"name": "c"},
      "title": {"text": "(c) x-direction error of journal bearing", "orient": "bottom", "anchor": "middle", "offset": 31, "dx": -35},
      "layer": [
        {
          "mark": {"type": "line", "interpolate": "natural", "strokeWidth": 6},
          "encoding": {
            "x": {"field": "t", "type": "quantitative", "scale": {"domain": [0, 6.5], "nice": false, "zero": false},
                  "axis": {"values": [0, 1.5708, 3.1416, 4.7124, 6.2832], "title": "θ(rad)",
                           "labelExpr": "datum.value < 0.5 ? '0' : datum.value < 2 ? 'π/2' : datum.value < 4 ? 'π' : datum.value < 5.5 ? '3π/2' : '2π'"}},
            "y": {"field": "v", "type": "quantitative", "scale": {"domain": [8.8, 10], "nice": false, "zero": false},
                  "axis": {"values": [8.8, 9, 9.2, 9.4, 9.6, 9.8, 10], "format": "~g", "title": "Δhx(μm)"}},
            "color": {"field": "s", "type": "nominal",
                      "scale": {"domain": ["ξ=0.67", "ξ=0.74", "ξ=0.82"], "range": ["#5ab01c", "#8e2c91", "#000000"]},
                      "legend": {"title": null, "orient": "none", "legendX": 169, "legendY": 327, "direction": "horizontal", "symbolType": "M-2.6,0H9.6", "symbolSize": 400, "symbolStrokeWidth": 6, "labelOffset": 80, "columnPadding": 13}},
            "strokeDash": {"field": "s", "type": "nominal",
                      "scale": {"domain": ["ξ=0.67", "ξ=0.74", "ξ=0.82"], "range": [[26, 18], [1, 0], [24, 9, 8, 9]]},
                      "legend": {"title": null, "orient": "none", "legendX": 169, "legendY": 327, "direction": "horizontal", "symbolType": "M-2.6,0H9.6", "symbolSize": 400, "symbolStrokeWidth": 6, "labelOffset": 80, "columnPadding": 13}}
          }
        },
        {
          "mark": {"type": "point", "opacity": 0},
          "encoding": {
            "x": {"field": "t", "type": "quantitative", "scale": {"domain": [0, 6.5], "nice": false, "zero": false},
                  "axis": {"orient": "top", "values": [0, 1.5708, 3.1416, 4.7124, 6.2832], "labels": false, "title": null}},
            "y": {"field": "v", "type": "quantitative", "scale": {"domain": [8.8, 10], "nice": false, "zero": false},
                  "axis": {"orient": "right", "values": [8.8, 9, 9.2, 9.4, 9.6, 9.8, 10], "labels": false, "title": null}}
          }
        }
      ],
      "resolve": {"axis": {"x": "independent", "y": "independent"}}
    },
    {
      "width": 1271,
      "height": 970,
      "data": {"name": "d"},
      "title": {"text": "(d) y-direction error of journal bearing", "orient": "bottom", "anchor": "middle", "offset": 31, "dx": -35},
      "layer": [
        {
          "mark": {"type": "line", "interpolate": "monotone", "strokeWidth": 6},
          "encoding": {
            "x": {"field": "t", "type": "quantitative", "scale": {"domain": [0, 6.5], "nice": false, "zero": false},
                  "axis": {"values": [0, 1.5708, 3.1416, 4.7124, 6.2832], "title": "θ(rad)",
                           "labelExpr": "datum.value < 0.5 ? '0' : datum.value < 2 ? 'π/2' : datum.value < 4 ? 'π' : datum.value < 5.5 ? '3π/2' : '2π'"}},
            "y": {"field": "v", "type": "quantitative", "scale": {"domain": [7, 10], "nice": false, "zero": false},
                  "axis": {"values": [7, 7.5, 8, 8.5, 9, 9.5, 10], "format": "~g", "title": "Δhy(μm)"}},
            "color": {"field": "s", "type": "nominal",
                      "scale": {"domain": ["ξ=0.67", "ξ=0.74", "ξ=0.82"], "range": ["#5ab01c", "#8e2c91", "#000000"]},
                      "legend": {"title": null, "orient": "none", "legendX": 226, "legendY": 869, "direction": "horizontal", "symbolType": "M-2.6,0H9.6", "symbolSize": 400, "symbolStrokeWidth": 6, "labelOffset": 80, "columnPadding": 13}},
            "strokeDash": {"field": "s", "type": "nominal",
                      "scale": {"domain": ["ξ=0.67", "ξ=0.74", "ξ=0.82"], "range": [[26, 18], [1, 0], [24, 9, 8, 9]]},
                      "legend": {"title": null, "orient": "none", "legendX": 226, "legendY": 869, "direction": "horizontal", "symbolType": "M-2.6,0H9.6", "symbolSize": 400, "symbolStrokeWidth": 6, "labelOffset": 80, "columnPadding": 13}}
          }
        },
        {
          "mark": {"type": "point", "opacity": 0},
          "encoding": {
            "x": {"field": "t", "type": "quantitative", "scale": {"domain": [0, 6.5], "nice": false, "zero": false},
                  "axis": {"orient": "top", "values": [0, 1.5708, 3.1416, 4.7124, 6.2832], "labels": false, "title": null}},
            "y": {"field": "v", "type": "quantitative", "scale": {"domain": [7, 10], "nice": false, "zero": false},
                  "axis": {"orient": "right", "values": [7, 7.5, 8, 8.5, 9, 9.5, 10], "labels": false, "title": null}}
          }
        }
      ],
      "resolve": {"axis": {"x": "independent", "y": "independent"}}
    }
  ]
}
